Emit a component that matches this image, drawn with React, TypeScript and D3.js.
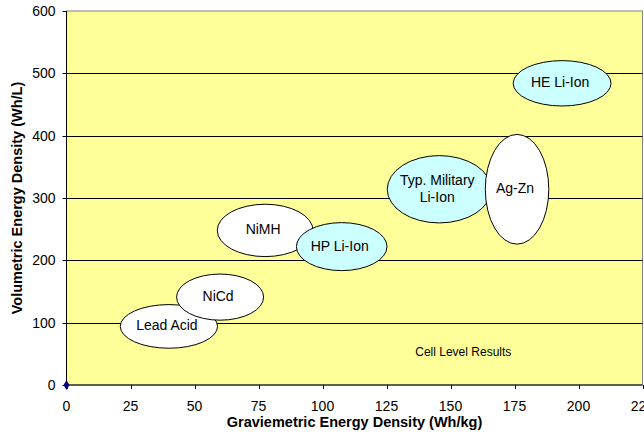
import React from "react";
import * as d3 from "d3";

// Cell chemistries drawn as ellipses: centre and half-extent in data units
const cellNames = ["Lead Acid", "NiCd", "NiMH", "HP Li-Ion", "Typ. Military\nLi-Ion", "Ag-Zn", "HE Li-Ion"];
const centerWhKg = [40, 60, 77.6, 107.5, 145.6, 176, 193.6];
const centerWhL = [94, 141, 248, 222, 314, 314, 484];
const halfWidthWhKg = [19, 17, 18.7, 17.7, 20.3, 12.4, 19.1];
const halfHeightWhL = [35, 37, 42, 38.5, 54, 88, 36.4];
const isLithium = [false, false, false, true, true, false, true];

const xTicks = [0, 25, 50, 75, 100, 125, 150, 175, 200, 225];
const yTicks = [0, 100, 200, 300, 400, 500, 600];

const W = 644;
const H = 444;
const left = 66.5;
const right = 642.5;
const top = 11;
const bottom = 385;

const FONT = "'Liberation Sans', Arial, sans-serif";

export default function App() {
  const x = d3.scaleLinear().domain([0, 225]).range([left, right]);
  const y = d3.scaleLinear().domain([0, 600]).range([bottom, top]);
  const sx = (v: number) => x(v) - x(0);
  const sy = (v: number) => y(0) - y(v);

  return (
    <svg
      width={W}
      height={H}
      style={{ position: "absolute", left: 0, top: 0, background: "#fff" }}
      fontFamily={FONT}
    >
      <rect x={left} y={top} width={right - left} height={bottom - top} fill="#FFFF99" stroke="#808080" strokeWidth={1} />
      {yTicks.slice(1, -1).map((t) => (
        <line key={t} x1={left} x2={right} y1={Math.round(y(t)) + 0.5} y2={Math.round(y(t)) + 0.5} stroke="#000" strokeWidth={1} />
      ))}
      {/* axes */}
      <line x1={left} x2={left} y1={top} y2={bottom} stroke="#000" />
      <line x1={left} x2={right} y1={bottom} y2={bottom} stroke="#000" />
      {yTicks.map((t) => (
        <g key={t}>
          <line x1={left - 4} x2={left} y1={Math.round(y(t)) + 0.5} y2={Math.round(y(t)) + 0.5} stroke="#000" />
          <text x={left - 11} y={y(t)} textAnchor="end" dominantBaseline="central" fontSize={14} fill="#000">
            {t}
          </text>
        </g>
      ))}
      {xTicks.map((t) => (
        <g key={t}>
          <line x1={Math.round(x(t)) + 0.5} x2={Math.round(x(t)) + 0.5} y1={bottom} y2={bottom + 4} stroke="#000" />
          <text x={x(t)} y={bottom + 21} textAnchor="middle" dominantBaseline="central" fontSize={14} fill="#000">
            {t}
          </text>
        </g>
      ))}
      {/* ellipses */}
      {cellNames.map((name, i) => {
        const cx = x(centerWhKg[i]);
        const cy = y(centerWhL[i]);
        const lines = name.split("\n");
        return (
          <g key={name}>
            <ellipse
              cx={cx}
              cy={cy}
              rx={sx(halfWidthWhKg[i])}
              ry={sy(halfHeightWhL[i])}
              fill={isLithium[i] ? "#CCFFFF" : "#FFFFFF"}
              stroke="#000"
              strokeWidth={1}
            />
            {lines.map((ln, j) => (
              <text
                key={j}
                x={cx - 2}
                y={cy + (j - (lines.length - 1) / 2) * 17 - 1}
                textAnchor="middle"
                dominantBaseline="central"
                fontSize={14}
                fill="#000"
              >
                {ln}
              </text>
            ))}
          </g>
        );
      })}
      <path d={d3.symbol(d3.symbolDiamond, 30)() || ""} transform={`translate(${x(0)},${y(0)})`} fill="#000080" />
      <text x={x(155)} y={y(53)} textAnchor="middle" dominantBaseline="central" fontSize={12} fill="#000">
        Cell Level Results
      </text>
      <text x={(left + right) / 2} y={422} textAnchor="middle" dominantBaseline="central" fontSize={14.5} fontWeight="bold" fill="#000">
        Graviemetric Energy Density (Wh/kg)
      </text>
      <text
        transform={`translate(17,${(top + bottom) / 2}) rotate(-90)`}
        textAnchor="middle"
        dominantBaseline="central"
        fontSize={14.5}
        fontWeight="bold"
        fill="#000"
      >
        Volumetric Energy Density (Wh/L)
      </text>
    </svg>
  );
}
